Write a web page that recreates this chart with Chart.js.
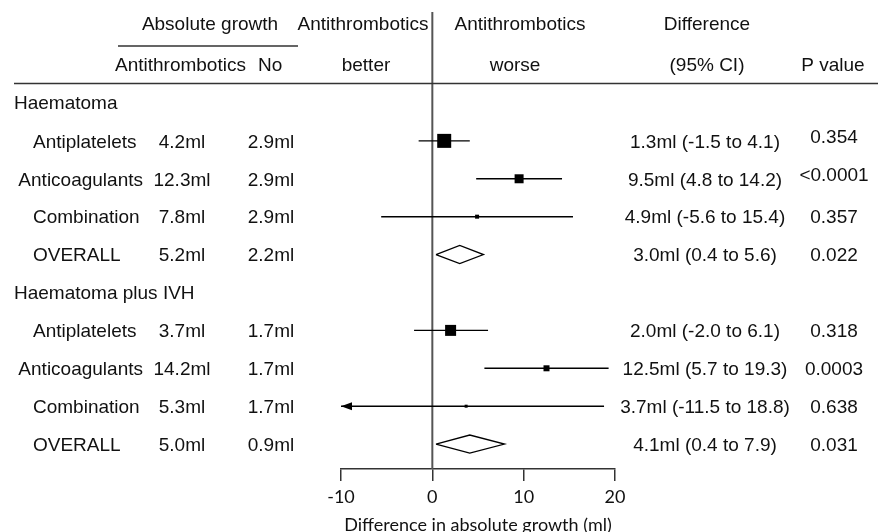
<!DOCTYPE html>
<html>
<head>
<meta charset="utf-8">
<script src="https://cdn.jsdelivr.net/npm/chart.js@4"></script>
<style>
  html, body { margin: 0; padding: 0; background: #fff; }
  canvas { display: block; }
</style>
</head>
<body>
<canvas id="forest" width="883" height="532"></canvas>
<script>
// groups and subgroup rows of the forest plot
const groupNames = ['Haematoma', 'Haematoma plus IVH'];
const subgroups = ['Antiplatelets', 'Anticoagulants', 'Combination', 'OVERALL'];

// absolute growth (ml), per row in group order
const growthAntithrombotic = [4.2, 12.3, 7.8, 5.2, 3.7, 14.2, 5.3, 5.0];
const growthNone = [2.9, 2.9, 2.9, 2.2, 1.7, 1.7, 1.7, 0.9];

// difference in absolute growth and 95% CI
const diffEst = [1.3, 9.5, 4.9, 3.0, 2.0, 12.5, 3.7, 4.1];
const diffLow = [-1.5, 4.8, -5.6, 0.4, -2.0, 5.7, -11.5, 0.4];
const diffHigh = [4.1, 14.2, 15.4, 5.6, 6.1, 19.3, 18.8, 7.9];
const pValues = ['0.354', '<0.0001', '0.357', '0.022', '0.318', '0.0003', '0.638', '0.031'];

// relative weight shown as box size
const boxWeight = [14, 9, 4, 0, 11, 6, 3, 0];

const xTicks = [-10, 0, 10, 20];
const X_MIN = -10, X_MAX = 20;

const TEXT = '#111';
const FONT = '"Liberation Sans", Arial, sans-serif';
const AXIS_FONT = 'Lato, "Open Sans", sans-serif';

function rowOf(k) {
  const g = Math.floor(k / subgroups.length);
  const s = k % subgroups.length;
  return g * (subgroups.length + 1) + 1 + s;
}
function isOverall(k) {
  return subgroups[k % subgroups.length] === 'OVERALL';
}

const datasets = [];

// boxes
const boxes = [];
const boxRadius = [];
diffEst.forEach((d, k) => {
  if (isOverall(k)) return;
  boxes.push({ x: d, y: rowOf(k) });
  boxRadius.push(boxWeight[k] / Math.SQRT2);
});
datasets.push({
  type: 'scatter',
  data: boxes,
  pointStyle: 'rect',
  pointRadius: boxRadius,
  backgroundColor: '#000',
  borderWidth: 0
});

// confidence intervals
diffEst.forEach((d, k) => {
  if (isOverall(k)) return;
  datasets.push({
    type: 'line',
    data: [{ x: Math.max(diffLow[k], X_MIN), y: rowOf(k) }, { x: diffHigh[k], y: rowOf(k) }],
    borderColor: '#000',
    borderWidth: 1.4,
    pointRadius: 0,
    fill: false
  });
});

// overall diamonds
const DIAMOND_H = 0.24;
diffEst.forEach((d, k) => {
  if (!isOverall(k)) return;
  const r = rowOf(k);
  datasets.push({
    type: 'line',
    data: [
      { x: diffLow[k], y: r },
      { x: d, y: r - DIAMOND_H },
      { x: diffHigh[k], y: r },
      { x: d, y: r + DIAMOND_H },
      { x: diffLow[k], y: r }
    ],
    borderColor: '#000',
    borderWidth: 1.3,
    pointRadius: 0,
    fill: false,
    tension: 0
  });
});

const tablePlugin = {
  id: 'forestTable',
  beforeDatasetsDraw(chart) {
    const { ctx, chartArea, scales: { x } } = chart;
    const x0 = x.getPixelForValue(0);
    ctx.save();
    ctx.strokeStyle = '#555';
    ctx.lineWidth = 2;
    ctx.beginPath();
    ctx.moveTo(x0, chartArea.top);
    ctx.lineTo(x0, chartArea.bottom);
    ctx.stroke();
    ctx.restore();
  },
  afterDatasetsDraw(chart) {
    const { ctx, scales: { x, y } } = chart;
    ctx.save();

    // arrows for intervals running off the axis
    diffEst.forEach((d, k) => {
      if (diffLow[k] >= X_MIN) return;
      const px = x.getPixelForValue(X_MIN);
      const py = y.getPixelForValue(rowOf(k));
      ctx.fillStyle = '#000';
      ctx.beginPath();
      ctx.moveTo(px, py);
      ctx.lineTo(px + 11, py - 4);
      ctx.lineTo(px + 11, py + 4);
      ctx.closePath();
      ctx.fill();
    });

    ctx.fillStyle = TEXT;
    ctx.textBaseline = 'middle';
    ctx.font = '19px ' + FONT;

    // header
    ctx.textAlign = 'center';
    ctx.fillText('Absolute growth', 210, 25);
    ctx.fillText('Antithrombotics', 363, 25);
    ctx.fillText('Antithrombotics', 520, 25);
    ctx.fillText('Difference', 707, 25);
    ctx.fillText('better', 366, 66);
    ctx.fillText('worse', 515, 66);
    ctx.fillText('(95% CI)', 707, 66);
    ctx.fillText('P value', 833, 66);
    ctx.textAlign = 'left';
    ctx.fillText('Antithrombotics', 115, 66);
    ctx.fillText('No', 258, 66);

    ctx.strokeStyle = '#333';
    ctx.lineWidth = 1.5;
    ctx.beginPath();
    ctx.moveTo(118, 46);
    ctx.lineTo(298, 46);
    ctx.moveTo(14, 83.5);
    ctx.lineTo(878, 83.5);
    ctx.stroke();

    // group titles
    groupNames.forEach((name, g) => {
      const py = y.getPixelForValue(g * (subgroups.length + 1)) + 1;
      ctx.textAlign = 'left';
      ctx.fillText(name, 14, py);
    });

    // rows
    diffEst.forEach((d, k) => {
      const py = y.getPixelForValue(rowOf(k)) + 1.5;
      const label = subgroups[k % subgroups.length];
      const w = ctx.measureText(label).width;
      ctx.textAlign = 'left';
      ctx.fillText(label, Math.max(14, Math.min(33, 143 - w)), py);
      ctx.textAlign = 'center';
      ctx.fillText(growthAntithrombotic[k].toFixed(1) + 'ml', 182, py);
      ctx.fillText(growthNone[k].toFixed(1) + 'ml', 271, py);
      ctx.fillText(d.toFixed(1) + 'ml (' + diffLow[k].toFixed(1) + ' to ' + diffHigh[k].toFixed(1) + ')', 705, py);
      ctx.fillText(pValues[k], 834, py - (k < 2 ? 5 : 0));
    });

    ctx.restore();
  }
};

new Chart(document.getElementById('forest'), {
  data: { datasets },
  options: {
    responsive: false,
    devicePixelRatio: 1,
    animation: false,
    layout: { padding: { top: 12, left: 341, right: 268, bottom: 0 } },
    plugins: { legend: { display: false }, tooltip: { enabled: false } },
    scales: {
      x: {
        type: 'linear',
        min: X_MIN,
        max: X_MAX,
        afterBuildTicks: (scale) => { scale.ticks = xTicks.map(v => ({ value: v })); },
        afterFit: (scale) => { scale.height = 63; },
        grid: { drawOnChartArea: false, drawTicks: true, tickLength: 12, color: '#333', lineWidth: 1.5 },
        border: { display: true, color: '#333', width: 1.5 },
        ticks: { color: TEXT, padding: 5, font: { family: AXIS_FONT, size: 18 }, maxRotation: 0 },
        title: {
          display: true,
          text: 'Difference in absolute growth (ml)',
          color: TEXT,
          font: { family: AXIS_FONT, size: 18, lineHeight: 0.8 },
          padding: 0
        }
      },
      y: {
        type: 'linear',
        display: false,
        reverse: true,
        min: -2.40,
        max: 9.657
      }
    }
  },
  plugins: [tablePlugin]
});
</script>
</body>
</html>
